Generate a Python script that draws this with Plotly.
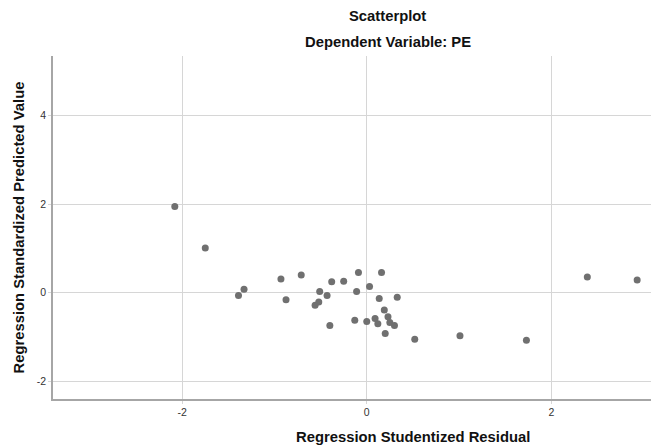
import plotly.graph_objects as go

residual = [-2.08, -1.75, -1.39, -1.33, -0.93, -0.875, -0.71, -0.51, -0.43, -0.38,
            -0.25, -0.56, -0.52, -0.40, -0.09, -0.11, 0.03, 0.16, 0.135, 0.33,
            -0.13, 0.00, 0.09, 0.12, 0.19, 0.23, 0.25, 0.30, 0.20, 0.52,
            1.01, 1.73, 2.39, 2.93]
predicted = [1.95, 1.01, -0.06, 0.08, 0.31, -0.16, 0.40, 0.03, -0.06, 0.25,
             0.26, -0.28, -0.21, -0.74, 0.46, 0.03, 0.14, 0.46, -0.13, -0.10,
             -0.62, -0.65, -0.58, -0.70, -0.39, -0.54, -0.67, -0.74, -0.92, -1.05,
             -0.97, -1.07, 0.355, 0.29]
x_ticks = [-2, 0, 2]
y_ticks = [-2, 0, 2, 4]

FONT = "Liberation Sans, Arial, sans-serif"
TSIZE = 14.8

fig = go.Figure(go.Scatter(
    x=residual, y=predicted, mode="markers",
    marker=dict(size=7, color="rgb(112,112,112)", line=dict(width=0)),
    hoverinfo="skip",
))

axis_common = dict(
    showgrid=True, gridcolor="#d6d6d6", gridwidth=1,
    showline=True, linecolor="#a6a6a6", linewidth=1.5,
    zeroline=False, ticks="outside", ticklen=3, tickcolor="#d6d6d6",
    tickfont=dict(family=FONT, size=10.5, color="#333333"),
)

fig.update_layout(
    width=653, height=446,
    margin=dict(l=53, r=2, t=56, b=47),
    paper_bgcolor="white", plot_bgcolor="white",
    showlegend=False,
    font=dict(family=FONT),
    xaxis=dict(range=[-3.4, 3.08], tickvals=x_ticks, ticktext=[str(v) for v in x_ticks], **axis_common),
    yaxis=dict(range=[-2.4, 5.35], tickvals=y_ticks, ticktext=[str(v) for v in y_ticks], **axis_common),
    annotations=[
        dict(text="<b>Scatterplot</b>", xref="paper", yref="paper", x=0.56, y=1.118,
             xanchor="center", yanchor="middle", showarrow=False,
             font=dict(family=FONT, size=TSIZE, color="#111111")),
        dict(text="<b>Dependent Variable: PE</b>", xref="paper", yref="paper", x=0.56, y=1.041,
             xanchor="center", yanchor="middle", showarrow=False,
             font=dict(family=FONT, size=TSIZE, color="#111111")),
        dict(text="<b>Regression Studentized Residual</b>", xref="paper", yref="paper", x=0.602, y=-0.111,
             xanchor="center", yanchor="middle", showarrow=False,
             font=dict(family=FONT, size=TSIZE, color="#111111")),
        dict(text="<b>Regression Standardized Predicted Value</b>", xref="paper", yref="paper", x=-0.0585, y=0.5,
             xanchor="center", yanchor="middle", showarrow=False, textangle=-90,
             font=dict(family=FONT, size=TSIZE, color="#111111")),
    ],
)

fig.write_html("out.html", config={"displayModeBar": False},
               post_script="document.body.style.margin='0';document.body.style.overflow='hidden';")
